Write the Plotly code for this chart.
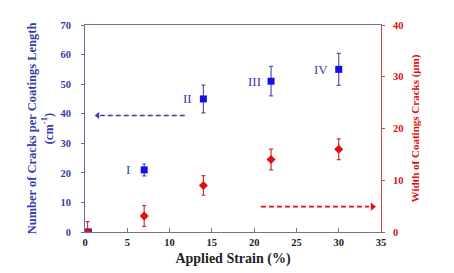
import plotly.graph_objects as go

# Data
strain_cracks = [0.4, 7, 14, 22, 30]
cracks = [0, 21, 45, 51, 55]
cracks_err = [0, 2, 4.7, 5, 5.4]
crack_labels = ["", "I", "II", "III", "IV"]
label_x = [0, 5.5, 12.9, 21.0, 29.0]

strain_width = [0.3, 7, 14, 22, 30]
width = [0, 3.1, 9, 14, 16]
width_err = [2, 2, 1.9, 2, 2]

x_ticks = [0, 5, 10, 15, 20, 25, 30, 35]
left_ticks = [0, 10, 20, 30, 40, 50, 60, 70]
right_ticks = [0, 10, 20, 30, 40]

FONT = "Liberation Serif"
BLUE = "#1010ee"
BLUE_TXT = "#3a3aa8"
RED = "#e01010"

fig = go.Figure()

fig.add_trace(go.Scatter(
    x=strain_cracks, y=cracks, mode="markers",
    marker=dict(symbol="square", size=7, color=BLUE),
    error_y=dict(type="data", array=cracks_err, color="#5555aa", thickness=1.2, width=2),
    showlegend=False))

fig.add_trace(go.Scatter(
    x=strain_width, y=width, mode="markers", yaxis="y2",
    marker=dict(symbol="diamond", size=7, color=RED),
    error_y=dict(type="data", array=width_err, color="#cc3333", thickness=1.2, width=2),
    showlegend=False))

# Roman numeral labels
for xv, yv, lab in zip(label_x, cracks, crack_labels):
    if lab:
        fig.add_annotation(x=xv, y=yv, text=lab, showarrow=False, xanchor="right",
                           font=dict(family=FONT, size=13, color=BLUE_TXT))

# Dashed arrows (line + arrowhead marker)
fig.add_trace(go.Scatter(x=[11.8, 1.8], y=[39.4, 39.4], mode="lines",
                         line=dict(color=BLUE_TXT, dash="5px,3px", width=1.6), showlegend=False))
fig.add_trace(go.Scatter(x=[1.5], y=[39.4], mode="markers",
                         marker=dict(symbol="triangle-left", size=6, color=BLUE_TXT), showlegend=False))
fig.add_trace(go.Scatter(x=[20.8, 33.6], y=[4.9, 4.9], mode="lines", yaxis="y2",
                         line=dict(color=RED, dash="5px,3px", width=1.6), showlegend=False))
fig.add_trace(go.Scatter(x=[34.0], y=[4.9], mode="markers", yaxis="y2",
                         marker=dict(symbol="triangle-right", size=7, color=RED), showlegend=False))

fig.update_layout(
    width=454, height=273,
    margin=dict(l=77, r=81, t=12, b=49),
    paper_bgcolor="white", plot_bgcolor="white",
    font=dict(family=FONT),
    xaxis=dict(range=[0, 35], tickvals=x_ticks, showgrid=False, zeroline=False,
               showline=True, linecolor="#777777", linewidth=1, mirror=True,
               ticks="inside", ticklen=4, tickcolor="#777777",
               tickfont=dict(family=FONT, size=10.5, color="#222222", weight="bold"),
               title=dict(text="Applied Strain (%)", standoff=6,
                          font=dict(family=FONT, size=14, color="#222222", weight="bold"))),
    yaxis=dict(range=[0, 70], tickvals=left_ticks, showgrid=False, zeroline=False,
               showline=True, linecolor="#6a6aaa", linewidth=1,
               ticks="outside", ticklen=3, tickcolor="#6a6aaa", ticklabelstandoff=8,
               tickfont=dict(family=FONT, size=10.5, color=BLUE_TXT, weight="bold"),
               title=dict(text="Number of Cracks per Coatings Length<br>(cm<sup>-1</sup>)", standoff=4,
                          font=dict(family=FONT, size=12.5, color=BLUE_TXT, weight="bold"))),
    yaxis2=dict(range=[0, 40], tickvals=right_ticks, overlaying="y", side="right",
                showgrid=False, zeroline=False, showline=True, linecolor="#cc4444", linewidth=1,
                ticks="outside", ticklen=3, tickcolor="#cc4444", ticklabelstandoff=6,
                tickfont=dict(family=FONT, size=10.5, color=RED, weight="bold"),
                title=dict(text="Width of Coatings Cracks (μm)", standoff=8,
                           font=dict(family=FONT, size=11, color=RED, weight="bold"))),
)

fig.write_html("out.html")
